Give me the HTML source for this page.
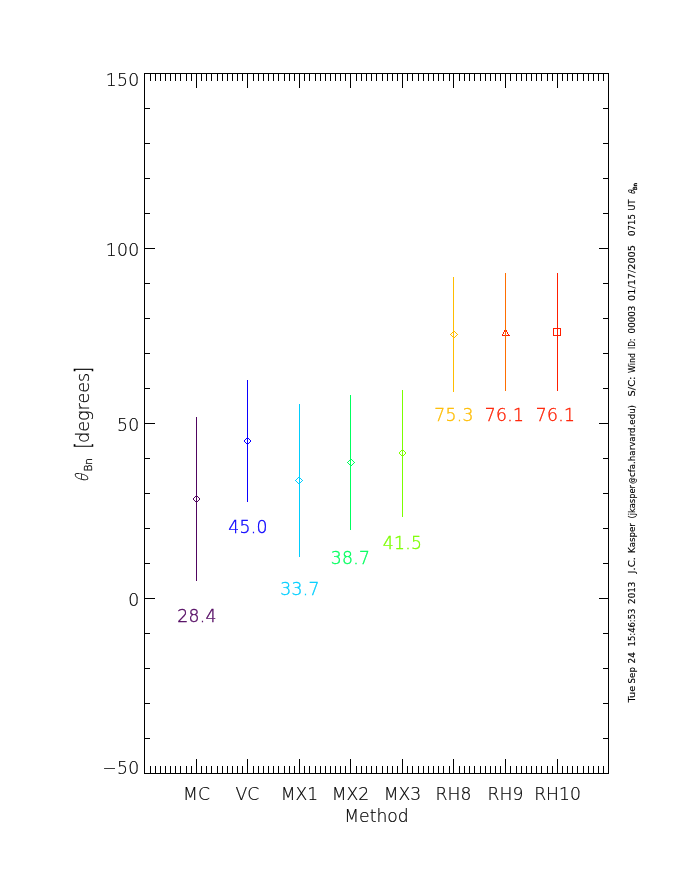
<!DOCTYPE html>
<html lang="en"><head><meta charset="utf-8"><title>Shock normal angle by method</title>
<style>
html,body{margin:0;padding:0;background:#fff;}
svg{display:block;}
text{font-family:"DejaVu Sans","Liberation Sans",sans-serif;font-weight:200;fill:#000;stroke:#000;stroke-width:0.2px;}
.ax{font-size:17.2px;}
.sub{font-size:10.8px;stroke-width:0.3px;}
.br{stroke-width:0.5px;}
.sm{font-size:9px;font-weight:400;stroke-width:0.15px;}
.ss{font-size:5.6px;font-weight:400;stroke-width:0.3px;}
</style></head><body>
<svg width="680" height="880" viewBox="0 0 680 880">
<rect x="0" y="0" width="680" height="880" fill="#fff"/>
<g shape-rendering="crispEdges" fill="#000">
<rect x="144" y="73" width="465" height="1"/>
<rect x="144" y="773" width="465" height="1"/>
<rect x="144" y="73" width="1" height="701"/>
<rect x="608" y="73" width="1" height="701"/>
<rect x="150" y="74" width="1" height="7"/>
<rect x="150" y="766" width="1" height="7"/>
<rect x="155" y="74" width="1" height="7"/>
<rect x="155" y="766" width="1" height="7"/>
<rect x="160" y="74" width="1" height="7"/>
<rect x="160" y="766" width="1" height="7"/>
<rect x="165" y="74" width="1" height="7"/>
<rect x="165" y="766" width="1" height="7"/>
<rect x="170" y="74" width="1" height="7"/>
<rect x="170" y="766" width="1" height="7"/>
<rect x="175" y="74" width="1" height="7"/>
<rect x="175" y="766" width="1" height="7"/>
<rect x="180" y="74" width="1" height="7"/>
<rect x="180" y="766" width="1" height="7"/>
<rect x="186" y="74" width="1" height="7"/>
<rect x="186" y="766" width="1" height="7"/>
<rect x="191" y="74" width="1" height="7"/>
<rect x="191" y="766" width="1" height="7"/>
<rect x="196" y="74" width="1" height="14"/>
<rect x="196" y="759" width="1" height="14"/>
<rect x="201" y="74" width="1" height="7"/>
<rect x="201" y="766" width="1" height="7"/>
<rect x="206" y="74" width="1" height="7"/>
<rect x="206" y="766" width="1" height="7"/>
<rect x="211" y="74" width="1" height="7"/>
<rect x="211" y="766" width="1" height="7"/>
<rect x="217" y="74" width="1" height="7"/>
<rect x="217" y="766" width="1" height="7"/>
<rect x="222" y="74" width="1" height="7"/>
<rect x="222" y="766" width="1" height="7"/>
<rect x="227" y="74" width="1" height="7"/>
<rect x="227" y="766" width="1" height="7"/>
<rect x="232" y="74" width="1" height="7"/>
<rect x="232" y="766" width="1" height="7"/>
<rect x="237" y="74" width="1" height="7"/>
<rect x="237" y="766" width="1" height="7"/>
<rect x="242" y="74" width="1" height="7"/>
<rect x="242" y="766" width="1" height="7"/>
<rect x="247" y="74" width="1" height="14"/>
<rect x="247" y="759" width="1" height="14"/>
<rect x="253" y="74" width="1" height="7"/>
<rect x="253" y="766" width="1" height="7"/>
<rect x="258" y="74" width="1" height="7"/>
<rect x="258" y="766" width="1" height="7"/>
<rect x="263" y="74" width="1" height="7"/>
<rect x="263" y="766" width="1" height="7"/>
<rect x="268" y="74" width="1" height="7"/>
<rect x="268" y="766" width="1" height="7"/>
<rect x="273" y="74" width="1" height="7"/>
<rect x="273" y="766" width="1" height="7"/>
<rect x="278" y="74" width="1" height="7"/>
<rect x="278" y="766" width="1" height="7"/>
<rect x="284" y="74" width="1" height="7"/>
<rect x="284" y="766" width="1" height="7"/>
<rect x="289" y="74" width="1" height="7"/>
<rect x="289" y="766" width="1" height="7"/>
<rect x="294" y="74" width="1" height="7"/>
<rect x="294" y="766" width="1" height="7"/>
<rect x="299" y="74" width="1" height="14"/>
<rect x="299" y="759" width="1" height="14"/>
<rect x="304" y="74" width="1" height="7"/>
<rect x="304" y="766" width="1" height="7"/>
<rect x="309" y="74" width="1" height="7"/>
<rect x="309" y="766" width="1" height="7"/>
<rect x="315" y="74" width="1" height="7"/>
<rect x="315" y="766" width="1" height="7"/>
<rect x="320" y="74" width="1" height="7"/>
<rect x="320" y="766" width="1" height="7"/>
<rect x="325" y="74" width="1" height="7"/>
<rect x="325" y="766" width="1" height="7"/>
<rect x="330" y="74" width="1" height="7"/>
<rect x="330" y="766" width="1" height="7"/>
<rect x="335" y="74" width="1" height="7"/>
<rect x="335" y="766" width="1" height="7"/>
<rect x="340" y="74" width="1" height="7"/>
<rect x="340" y="766" width="1" height="7"/>
<rect x="345" y="74" width="1" height="7"/>
<rect x="345" y="766" width="1" height="7"/>
<rect x="350" y="74" width="1" height="14"/>
<rect x="350" y="759" width="1" height="14"/>
<rect x="356" y="74" width="1" height="7"/>
<rect x="356" y="766" width="1" height="7"/>
<rect x="361" y="74" width="1" height="7"/>
<rect x="361" y="766" width="1" height="7"/>
<rect x="366" y="74" width="1" height="7"/>
<rect x="366" y="766" width="1" height="7"/>
<rect x="371" y="74" width="1" height="7"/>
<rect x="371" y="766" width="1" height="7"/>
<rect x="376" y="74" width="1" height="7"/>
<rect x="376" y="766" width="1" height="7"/>
<rect x="382" y="74" width="1" height="7"/>
<rect x="382" y="766" width="1" height="7"/>
<rect x="387" y="74" width="1" height="7"/>
<rect x="387" y="766" width="1" height="7"/>
<rect x="392" y="74" width="1" height="7"/>
<rect x="392" y="766" width="1" height="7"/>
<rect x="397" y="74" width="1" height="7"/>
<rect x="397" y="766" width="1" height="7"/>
<rect x="402" y="74" width="1" height="14"/>
<rect x="402" y="759" width="1" height="14"/>
<rect x="407" y="74" width="1" height="7"/>
<rect x="407" y="766" width="1" height="7"/>
<rect x="412" y="74" width="1" height="7"/>
<rect x="412" y="766" width="1" height="7"/>
<rect x="418" y="74" width="1" height="7"/>
<rect x="418" y="766" width="1" height="7"/>
<rect x="423" y="74" width="1" height="7"/>
<rect x="423" y="766" width="1" height="7"/>
<rect x="428" y="74" width="1" height="7"/>
<rect x="428" y="766" width="1" height="7"/>
<rect x="433" y="74" width="1" height="7"/>
<rect x="433" y="766" width="1" height="7"/>
<rect x="438" y="74" width="1" height="7"/>
<rect x="438" y="766" width="1" height="7"/>
<rect x="443" y="74" width="1" height="7"/>
<rect x="443" y="766" width="1" height="7"/>
<rect x="449" y="74" width="1" height="7"/>
<rect x="449" y="766" width="1" height="7"/>
<rect x="453" y="74" width="1" height="14"/>
<rect x="453" y="759" width="1" height="14"/>
<rect x="459" y="74" width="1" height="7"/>
<rect x="459" y="766" width="1" height="7"/>
<rect x="464" y="74" width="1" height="7"/>
<rect x="464" y="766" width="1" height="7"/>
<rect x="469" y="74" width="1" height="7"/>
<rect x="469" y="766" width="1" height="7"/>
<rect x="474" y="74" width="1" height="7"/>
<rect x="474" y="766" width="1" height="7"/>
<rect x="480" y="74" width="1" height="7"/>
<rect x="480" y="766" width="1" height="7"/>
<rect x="485" y="74" width="1" height="7"/>
<rect x="485" y="766" width="1" height="7"/>
<rect x="490" y="74" width="1" height="7"/>
<rect x="490" y="766" width="1" height="7"/>
<rect x="495" y="74" width="1" height="7"/>
<rect x="495" y="766" width="1" height="7"/>
<rect x="500" y="74" width="1" height="7"/>
<rect x="500" y="766" width="1" height="7"/>
<rect x="505" y="74" width="1" height="14"/>
<rect x="505" y="759" width="1" height="14"/>
<rect x="510" y="74" width="1" height="7"/>
<rect x="510" y="766" width="1" height="7"/>
<rect x="516" y="74" width="1" height="7"/>
<rect x="516" y="766" width="1" height="7"/>
<rect x="521" y="74" width="1" height="7"/>
<rect x="521" y="766" width="1" height="7"/>
<rect x="526" y="74" width="1" height="7"/>
<rect x="526" y="766" width="1" height="7"/>
<rect x="531" y="74" width="1" height="7"/>
<rect x="531" y="766" width="1" height="7"/>
<rect x="536" y="74" width="1" height="7"/>
<rect x="536" y="766" width="1" height="7"/>
<rect x="541" y="74" width="1" height="7"/>
<rect x="541" y="766" width="1" height="7"/>
<rect x="547" y="74" width="1" height="7"/>
<rect x="547" y="766" width="1" height="7"/>
<rect x="552" y="74" width="1" height="7"/>
<rect x="552" y="766" width="1" height="7"/>
<rect x="557" y="74" width="1" height="14"/>
<rect x="557" y="759" width="1" height="14"/>
<rect x="562" y="74" width="1" height="7"/>
<rect x="562" y="766" width="1" height="7"/>
<rect x="567" y="74" width="1" height="7"/>
<rect x="567" y="766" width="1" height="7"/>
<rect x="572" y="74" width="1" height="7"/>
<rect x="572" y="766" width="1" height="7"/>
<rect x="577" y="74" width="1" height="7"/>
<rect x="577" y="766" width="1" height="7"/>
<rect x="583" y="74" width="1" height="7"/>
<rect x="583" y="766" width="1" height="7"/>
<rect x="588" y="74" width="1" height="7"/>
<rect x="588" y="766" width="1" height="7"/>
<rect x="593" y="74" width="1" height="7"/>
<rect x="593" y="766" width="1" height="7"/>
<rect x="598" y="74" width="1" height="7"/>
<rect x="598" y="766" width="1" height="7"/>
<rect x="603" y="74" width="1" height="7"/>
<rect x="603" y="766" width="1" height="7"/>
<rect x="145" y="108" width="5" height="1"/>
<rect x="603" y="108" width="5" height="1"/>
<rect x="145" y="143" width="5" height="1"/>
<rect x="603" y="143" width="5" height="1"/>
<rect x="145" y="178" width="5" height="1"/>
<rect x="603" y="178" width="5" height="1"/>
<rect x="145" y="213" width="5" height="1"/>
<rect x="603" y="213" width="5" height="1"/>
<rect x="145" y="248" width="10" height="1"/>
<rect x="599" y="248" width="9" height="1"/>
<rect x="145" y="283" width="5" height="1"/>
<rect x="603" y="283" width="5" height="1"/>
<rect x="145" y="318" width="5" height="1"/>
<rect x="603" y="318" width="5" height="1"/>
<rect x="145" y="353" width="5" height="1"/>
<rect x="603" y="353" width="5" height="1"/>
<rect x="145" y="388" width="5" height="1"/>
<rect x="603" y="388" width="5" height="1"/>
<rect x="145" y="423" width="10" height="1"/>
<rect x="599" y="423" width="9" height="1"/>
<rect x="145" y="458" width="5" height="1"/>
<rect x="603" y="458" width="5" height="1"/>
<rect x="145" y="493" width="5" height="1"/>
<rect x="603" y="493" width="5" height="1"/>
<rect x="145" y="528" width="5" height="1"/>
<rect x="603" y="528" width="5" height="1"/>
<rect x="145" y="563" width="5" height="1"/>
<rect x="603" y="563" width="5" height="1"/>
<rect x="145" y="598" width="10" height="1"/>
<rect x="599" y="598" width="9" height="1"/>
<rect x="145" y="633" width="5" height="1"/>
<rect x="603" y="633" width="5" height="1"/>
<rect x="145" y="668" width="5" height="1"/>
<rect x="603" y="668" width="5" height="1"/>
<rect x="145" y="703" width="5" height="1"/>
<rect x="603" y="703" width="5" height="1"/>
<rect x="145" y="738" width="5" height="1"/>
<rect x="603" y="738" width="5" height="1"/>
</g>
<g shape-rendering="crispEdges">
<rect x="195" y="496" width="3" height="1" fill="#50055f"/>
<rect x="194" y="497" width="1" height="1" fill="#50055f"/>
<rect x="198" y="497" width="1" height="1" fill="#50055f"/>
<rect x="193" y="498" width="1" height="2" fill="#50055f"/>
<rect x="199" y="498" width="1" height="2" fill="#50055f"/>
<rect x="194" y="500" width="1" height="1" fill="#50055f"/>
<rect x="198" y="500" width="1" height="1" fill="#50055f"/>
<rect x="195" y="501" width="3" height="1" fill="#50055f"/>
<rect x="246" y="438" width="3" height="1" fill="#0a00ff"/>
<rect x="245" y="439" width="1" height="1" fill="#0a00ff"/>
<rect x="249" y="439" width="1" height="1" fill="#0a00ff"/>
<rect x="244" y="440" width="1" height="2" fill="#0a00ff"/>
<rect x="250" y="440" width="1" height="2" fill="#0a00ff"/>
<rect x="245" y="442" width="1" height="1" fill="#0a00ff"/>
<rect x="249" y="442" width="1" height="1" fill="#0a00ff"/>
<rect x="246" y="443" width="3" height="1" fill="#0a00ff"/>
<rect x="298" y="477" width="1" height="1" fill="#00ceff"/>
<rect x="299" y="477" width="1" height="1" fill="#00ceff"/>
<rect x="298" y="483" width="1" height="1" fill="#00ceff"/>
<rect x="299" y="483" width="1" height="1" fill="#00ceff"/>
<rect x="297" y="478" width="1" height="1" fill="#00ceff"/>
<rect x="300" y="478" width="1" height="1" fill="#00ceff"/>
<rect x="297" y="482" width="1" height="1" fill="#00ceff"/>
<rect x="300" y="482" width="1" height="1" fill="#00ceff"/>
<rect x="296" y="479" width="1" height="1" fill="#00ceff"/>
<rect x="301" y="479" width="1" height="1" fill="#00ceff"/>
<rect x="296" y="481" width="1" height="1" fill="#00ceff"/>
<rect x="301" y="481" width="1" height="1" fill="#00ceff"/>
<rect x="295" y="480" width="1" height="1" fill="#00ceff"/>
<rect x="302" y="480" width="1" height="1" fill="#00ceff"/>
<rect x="295" y="480" width="1" height="1" fill="#00ceff"/>
<rect x="302" y="480" width="1" height="1" fill="#00ceff"/>
<rect x="350" y="459" width="1" height="1" fill="#00ff5e"/>
<rect x="351" y="459" width="1" height="1" fill="#00ff5e"/>
<rect x="350" y="465" width="1" height="1" fill="#00ff5e"/>
<rect x="351" y="465" width="1" height="1" fill="#00ff5e"/>
<rect x="349" y="460" width="1" height="1" fill="#00ff5e"/>
<rect x="352" y="460" width="1" height="1" fill="#00ff5e"/>
<rect x="349" y="464" width="1" height="1" fill="#00ff5e"/>
<rect x="352" y="464" width="1" height="1" fill="#00ff5e"/>
<rect x="348" y="461" width="1" height="1" fill="#00ff5e"/>
<rect x="353" y="461" width="1" height="1" fill="#00ff5e"/>
<rect x="348" y="463" width="1" height="1" fill="#00ff5e"/>
<rect x="353" y="463" width="1" height="1" fill="#00ff5e"/>
<rect x="347" y="462" width="1" height="1" fill="#00ff5e"/>
<rect x="354" y="462" width="1" height="1" fill="#00ff5e"/>
<rect x="347" y="462" width="1" height="1" fill="#00ff5e"/>
<rect x="354" y="462" width="1" height="1" fill="#00ff5e"/>
<rect x="401" y="450" width="3" height="1" fill="#7cff00"/>
<rect x="400" y="451" width="1" height="1" fill="#7cff00"/>
<rect x="404" y="451" width="1" height="1" fill="#7cff00"/>
<rect x="399" y="452" width="1" height="2" fill="#7cff00"/>
<rect x="405" y="452" width="1" height="2" fill="#7cff00"/>
<rect x="400" y="454" width="1" height="1" fill="#7cff00"/>
<rect x="404" y="454" width="1" height="1" fill="#7cff00"/>
<rect x="401" y="455" width="3" height="1" fill="#7cff00"/>
<rect x="453" y="331" width="1" height="1" fill="#ffbc00"/>
<rect x="454" y="331" width="1" height="1" fill="#ffbc00"/>
<rect x="453" y="337" width="1" height="1" fill="#ffbc00"/>
<rect x="454" y="337" width="1" height="1" fill="#ffbc00"/>
<rect x="452" y="332" width="1" height="1" fill="#ffbc00"/>
<rect x="455" y="332" width="1" height="1" fill="#ffbc00"/>
<rect x="452" y="336" width="1" height="1" fill="#ffbc00"/>
<rect x="455" y="336" width="1" height="1" fill="#ffbc00"/>
<rect x="451" y="333" width="1" height="1" fill="#ffbc00"/>
<rect x="456" y="333" width="1" height="1" fill="#ffbc00"/>
<rect x="451" y="335" width="1" height="1" fill="#ffbc00"/>
<rect x="456" y="335" width="1" height="1" fill="#ffbc00"/>
<rect x="450" y="334" width="1" height="1" fill="#ffbc00"/>
<rect x="457" y="334" width="1" height="1" fill="#ffbc00"/>
<rect x="450" y="334" width="1" height="1" fill="#ffbc00"/>
<rect x="457" y="334" width="1" height="1" fill="#ffbc00"/>
<rect x="504" y="330" width="1" height="2" fill="#ff1e00"/>
<rect x="506" y="330" width="1" height="2" fill="#ff1e00"/>
<rect x="503" y="332" width="1" height="2" fill="#ff1e00"/>
<rect x="507" y="332" width="1" height="2" fill="#ff1e00"/>
<rect x="502" y="334" width="1" height="1" fill="#ff1e00"/>
<rect x="508" y="334" width="1" height="1" fill="#ff1e00"/>
<rect x="502" y="335" width="8" height="1" fill="#ff1e00"/>
<rect x="553" y="328" width="8" height="1" fill="#ff1e00"/>
<rect x="553" y="335" width="8" height="1" fill="#ff1e00"/>
<rect x="553" y="328" width="1" height="8" fill="#ff1e00"/>
<rect x="560" y="328" width="1" height="8" fill="#ff1e00"/>
<rect x="196" y="417" width="1" height="164" fill="#50055f"/>
<rect x="247" y="380" width="1" height="122" fill="#0a00ff"/>
<rect x="299" y="404" width="1" height="153" fill="#00ceff"/>
<rect x="350" y="395" width="1" height="135" fill="#00ff5e"/>
<rect x="402" y="390" width="1" height="127" fill="#7cff00"/>
<rect x="453" y="277" width="1" height="115" fill="#ffbc00"/>
<rect x="505" y="273" width="1" height="118" fill="#ff6e00"/>
<rect x="557" y="273" width="1" height="118" fill="#ff1e00"/>
</g>
<g class="ax" text-anchor="middle">
<text x="197.0" y="622" style="fill:#50055f;stroke:#50055f;stroke-width:0.35px" letter-spacing="0.3">28.4</text>
<text x="248.0" y="532.5" style="fill:#0a00ff;stroke:#0a00ff;stroke-width:0.35px" letter-spacing="0.3">45.0</text>
<text x="300.0" y="595" style="fill:#00ceff;stroke:#00ceff;stroke-width:0.35px" letter-spacing="0.3">33.7</text>
<text x="350.5" y="563.5" style="fill:#00ff5e;stroke:#00ff5e;stroke-width:0.35px" letter-spacing="0.3">38.7</text>
<text x="402.5" y="549" style="fill:#7cff00;stroke:#7cff00;stroke-width:0.35px" letter-spacing="0.3">41.5</text>
<text x="454.0" y="421" style="fill:#ffbc00;stroke:#ffbc00;stroke-width:0.35px" letter-spacing="0.3">75.3</text>
<text x="504.5" y="421" style="fill:#ff1e00;stroke:#ff1e00;stroke-width:0.35px" letter-spacing="0.3">76.1</text>
<text x="555.5" y="421" style="fill:#ff1e00;stroke:#ff1e00;stroke-width:0.35px" letter-spacing="0.3">76.1</text>
</g>
<g class="ax" text-anchor="end">
<text x="139.5" y="85.5" letter-spacing="0.3">150</text>
<text x="139.5" y="255.5" letter-spacing="0.3">100</text>
<text x="139.5" y="430.5" letter-spacing="0.3">50</text>
<text x="139.5" y="605.5" letter-spacing="0.3">0</text>
<text x="139.5" y="773.5" letter-spacing="0.3">−50</text>
</g>
<g class="ax" text-anchor="middle">
<text x="196.5" y="799.5">MC</text>
<text x="247.5" y="799.5">VC</text>
<text x="299.5" y="799.5">MX1</text>
<text x="350.5" y="799.5">MX2</text>
<text x="402.5" y="799.5">MX3</text>
<text x="453.5" y="799.5">RH8</text>
<text x="505.5" y="799.5">RH9</text>
<text x="557.5" y="799.5">RH10</text>
<text x="376.5" y="821.5">Method</text>
</g>
<g transform="translate(88.5,481) rotate(-90)">
<text class="ax" transform="translate(-1.2,-0.8) skewX(-14) scale(0.78,1)" x="0" y="0">θ</text>
<text class="sub" x="9.5" y="3.4" textLength="13.5" lengthAdjust="spacingAndGlyphs">Bn</text>
<text class="ax br" transform="translate(33.0,1.92) scale(0.72,1.27)" x="0" y="0">[</text>
<text class="ax" x="38.0" y="0" textLength="70.3" lengthAdjust="spacingAndGlyphs">degrees</text>
<text class="ax br" transform="translate(108.4,1.92) scale(0.72,1.27)" x="0" y="0">]</text>
</g>
<g transform="translate(634.7,702) rotate(-90)">
<text class="sm" x="-0.4" y="0" textLength="16.8" lengthAdjust="spacingAndGlyphs">Tue</text>
<text class="sm" x="18.6" y="0" textLength="16.3" lengthAdjust="spacingAndGlyphs">Sep</text>
<text class="sm" x="38.6" y="0" textLength="11.3" lengthAdjust="spacingAndGlyphs">24</text>
<text class="sm" x="55.6" y="0" textLength="37.8" lengthAdjust="spacingAndGlyphs">15:46:53</text>
<text class="sm" x="98.1" y="0" textLength="22.3" lengthAdjust="spacingAndGlyphs">2013</text>
<text class="sm" x="128.6" y="0" textLength="16.3" lengthAdjust="spacingAndGlyphs">J.C.</text>
<text class="sm" x="149.1" y="0" textLength="29.8" lengthAdjust="spacingAndGlyphs">Kasper</text>
<text class="sm" x="183.6" y="0" textLength="33.3" lengthAdjust="spacingAndGlyphs">(jkasper</text>
<text class="sm" x="218.2" y="0" textLength="6.3999999999999995" lengthAdjust="spacingAndGlyphs">@</text>
<text class="sm" x="225.0" y="0" textLength="72.0" lengthAdjust="spacingAndGlyphs">cfa.harvard.edu)</text>
<text class="sm" x="305.6" y="0" textLength="19.8" lengthAdjust="spacingAndGlyphs">S/C:</text>
<text class="sm" x="329.1" y="0" textLength="19.8" lengthAdjust="spacingAndGlyphs">Wind</text>
<text class="sm" x="353.1" y="0" textLength="10.3" lengthAdjust="spacingAndGlyphs">ID:</text>
<text class="sm" x="368.6" y="0" textLength="27.8" lengthAdjust="spacingAndGlyphs">00003</text>
<text class="sm" x="401.1" y="0" textLength="55.8" lengthAdjust="spacingAndGlyphs">01/17/2005</text>
<text class="sm" x="466.1" y="0" textLength="21.8" lengthAdjust="spacingAndGlyphs">0715</text>
<text class="sm" x="491.6" y="0" textLength="10.8" lengthAdjust="spacingAndGlyphs">UT</text>
<text class="sm" transform="translate(507.5,0) skewX(-14) scale(0.75,1)" x="0" y="0">θ</text>
<text class="ss" x="511.8" y="2" textLength="7.2" lengthAdjust="spacingAndGlyphs">Bn</text>
</g>
</svg>
</body></html>
